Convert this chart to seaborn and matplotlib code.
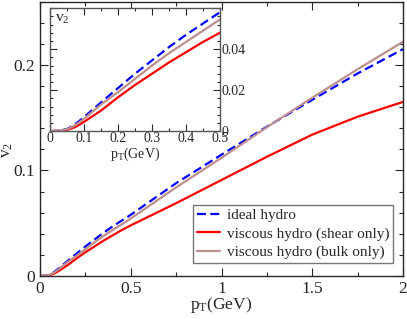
import matplotlib
matplotlib.use('Agg')

import matplotlib.pyplot as plt
from matplotlib.ticker import MultipleLocator, FuncFormatter
import seaborn as sns
import numpy as np
import pandas as pd

# v2(pT)
pt = [0, 0.025, 0.05, 0.075, 0.1, 0.15, 0.2, 0.25, 0.3, 0.35, 0.4, 0.45, 0.5,
      0.75, 1.0, 1.25, 1.5, 1.75, 2.0]
v2_ideal = [0, 0.0002, 0.001, 0.0035, 0.0068, 0.014, 0.021, 0.028, 0.0345, 0.041,
            0.047, 0.0525, 0.058, 0.088, 0.115, 0.1415, 0.167, 0.192, 0.215]
v2_shear = [0, 0.0001, 0.0006, 0.002, 0.0045, 0.010, 0.0165, 0.0225, 0.028, 0.0335,
            0.0385, 0.0435, 0.048, 0.069, 0.091, 0.113, 0.134, 0.151, 0.165]
v2_bulk = [0, 0.0002, 0.0009, 0.003, 0.006, 0.013, 0.019, 0.0255, 0.032, 0.038,
           0.0435, 0.049, 0.0545, 0.084, 0.112, 0.141, 0.169, 0.196, 0.222]
labels = ['ideal hydro', 'viscous hydro (shear only)', 'viscous hydro (bulk only)']

df = pd.concat([
    pd.DataFrame({'pT': pt, 'v2': v, 'model': lab})
    for v, lab in zip([v2_ideal, v2_shear, v2_bulk], labels)
])

sns.set_style('ticks')
plt.rcParams['font.family'] = ['Liberation Serif', 'DejaVu Serif']
plt.rcParams['mathtext.fontset'] = 'custom'
plt.rcParams['mathtext.rm'] = 'Liberation Serif'
plt.rcParams['mathtext.it'] = 'Liberation Serif'

palette = {labels[0]: '#0000ff', labels[1]: '#ff0000', labels[2]: '#bc8f8f'}
dashes = {labels[0]: (4, 2), labels[1]: '', labels[2]: ''}

fmt = FuncFormatter(lambda v, p: '%g' % round(v, 4))
ins_yfmt = FuncFormatter(lambda v, p: '' if v > 0.05 else '%g' % round(v, 4))

fig = plt.figure(figsize=(4.07, 3.19), dpi=100)
ax = fig.add_axes([0.0983, 0.1348, 0.892, 0.86])

sns.lineplot(data=df, x='pT', y='v2', hue='model', style='model', palette=palette,
             dashes=dashes, linewidth=1.6, ax=ax)
ax.set_xlim(0, 2)
ax.set_ylim(0, 0.26)
ax.xaxis.set_major_locator(MultipleLocator(0.5))
ax.xaxis.set_minor_locator(MultipleLocator(0.25))
ax.yaxis.set_major_locator(MultipleLocator(0.1))
ax.yaxis.set_minor_locator(MultipleLocator(0.02))
ax.xaxis.set_major_formatter(fmt)
ax.yaxis.set_major_formatter(fmt)
ax.tick_params(which='both', direction='in', top=True, right=True, labelsize=12.5, width=0.8)
ax.tick_params(which='major', length=6)
ax.tick_params(which='minor', length=3)
for s in ax.spines.values():
    s.set_linewidth(1.0)
ax.set_xlabel(r'p$_{\rm T}$(GeV)', fontsize=12.5, labelpad=-1)
ax.set_ylabel(r'v$_2$', fontsize=12.5)
ax.yaxis.set_label_coords(-0.068, 0.46)

leg = ax.legend(loc='lower right', bbox_to_anchor=(0.972, 0.047), fontsize=11,
                frameon=True, fancybox=False, borderaxespad=0, handlelength=1.5,
                borderpad=0.25, labelspacing=0.3, handletextpad=0.45)
leg.get_frame().set_edgecolor('#555555')
leg.get_frame().set_linewidth(1.0)

# inset
ins = fig.add_axes([0.1229, 0.589, 0.4177, 0.3856])
sns.lineplot(data=df, x='pT', y='v2', hue='model', style='model', palette=palette,
             dashes=dashes, linewidth=1.6, ax=ins, legend=False)
ins.set_xlim(0, 0.5)
ins.set_ylim(0, 0.06)
ins.xaxis.set_major_locator(MultipleLocator(0.1))
ins.xaxis.set_minor_locator(MultipleLocator(0.05))
ins.yaxis.set_major_locator(MultipleLocator(0.02))
ins.yaxis.set_minor_locator(MultipleLocator(0.004))
ins.xaxis.set_major_formatter(fmt)
ins.yaxis.set_major_formatter(ins_yfmt)
ins.tick_params(which='both', direction='in', top=True, left=True, right=True,
                labelleft=False, labelright=True, labelsize=10, width=0.8, pad=1)
ins.tick_params(which='major', length=5)
ins.tick_params(which='minor', length=2.5)
for s in ins.spines.values():
    s.set_linewidth(1.0)
    s.set_color('#555555')
ins.set_xlabel(r'p$_{\rm T}$(GeV)', fontsize=10, labelpad=0)
ins.set_ylabel('')
ins.text(0.03, 0.96, r'v$_2$', transform=ins.transAxes, fontsize=11, va='top', ha='left')

plt.savefig('out.png', dpi=100)
